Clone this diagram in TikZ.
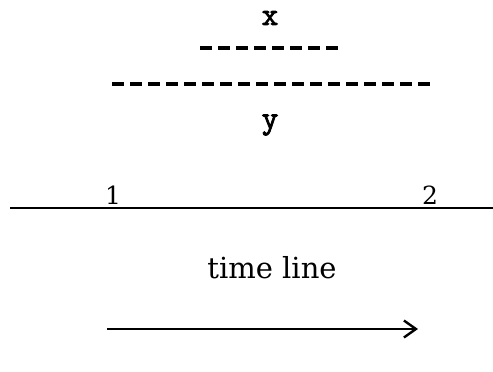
\documentclass[tikz,border=0pt]{standalone}
\usepackage{fontspec}
\setmainfont{DejaVu Serif}
\newfontfamily\xyfont[FakeBold=2.5]{lmmono10-regular.otf}
\usetikzlibrary{arrows.meta}
\begin{document}
\begin{tikzpicture}[x=1pt,y=-1pt,
  lbl/.style={inner sep=0pt,font=\fontsize{32}{34}\selectfont\xyfont},
  num/.style={inner sep=0pt,anchor=base,font=\fontsize{25}{28}\selectfont},
  dashline/.style={line width=3.2pt,dash pattern=on 12pt off 6pt},
  solid line/.style={line width=1.8pt}]
\useasboundingbox (0,0) rectangle (493,372);
\node[lbl] (x) at (270,18) {x};
\coordinate (d1a) at (200,48);
\coordinate (d1b) at (338,48);
\draw[dashline] (d1a) -- (d1b);
\coordinate (d2a) at (112,84);
\coordinate (d2b) at (430,84);
\draw[dashline] (d2a) -- (d2b);
\node[lbl] (y) at (270,125) {y};
\coordinate (la) at (10,208);
\coordinate (lb) at (493,208);
\draw[solid line] (la) -- (lb);
\node[num] (one) at (113,204) {1};
\node[num] (two) at (430,204) {2};
\node[inner sep=0pt,font=\fontsize{29}{32}\selectfont] (tl) at (272,268) {time line};
\coordinate (aa) at (107,329);
\coordinate (ab) at (418,329);
\draw[solid line,-{Straight Barb[length=12pt,width=17pt,line width=2.4pt]}] (aa) -- (ab);
\end{tikzpicture}
\end{document}
